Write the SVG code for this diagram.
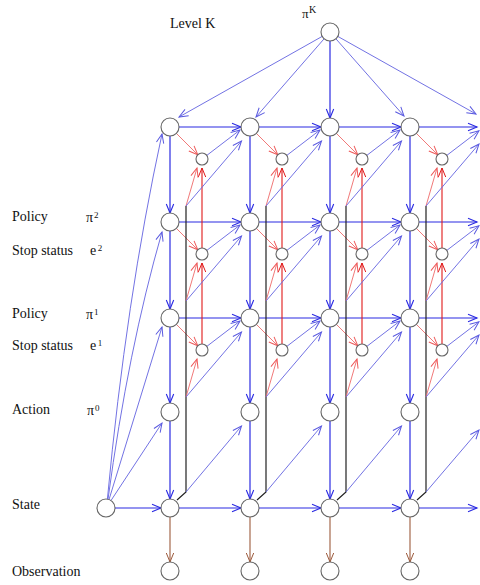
<svg xmlns="http://www.w3.org/2000/svg" width="480" height="585" viewBox="0 0 480 585">
<style>
text{font-family:"Liberation Serif","Times New Roman",serif;font-size:14px;fill:#111}
.sup{font-size:9px}
.n{fill:#fff;stroke:#666;stroke-width:1.1}
.db{stroke:#2a2ae2;stroke-width:1.2;fill:none;marker-end:url(#aDB)}
.lb{stroke:#6a6ae2;stroke-width:0.95;fill:none;marker-end:url(#aLB)}
.rv{stroke:#e01818;stroke-width:1.1;fill:none;marker-end:url(#aRV)}
.lr{stroke:#ee6a6a;stroke-width:0.9;fill:none;marker-end:url(#aLR)}
.br{stroke:#9c5a3c;stroke-width:1.1;fill:none;marker-end:url(#aBR)}
.bk{stroke:#222;stroke-width:1.2;fill:none}
</style>
<defs>
<marker id="aDB" markerUnits="userSpaceOnUse" markerWidth="10" markerHeight="8" refX="9" refY="4" orient="auto" overflow="visible"><path d="M0,0.3 L9,4 L0,7.7" fill="none" stroke="#2a2ae2" stroke-width="1.1"/></marker>
<marker id="aLB" markerUnits="userSpaceOnUse" markerWidth="10" markerHeight="8" refX="9" refY="4" orient="auto" overflow="visible"><path d="M0,0.3 L9,4 L0,7.7" fill="none" stroke="#5a5ae0" stroke-width="1"/></marker>
<marker id="aRV" markerUnits="userSpaceOnUse" markerWidth="10" markerHeight="8" refX="9" refY="4" orient="auto" overflow="visible"><path d="M0,0.3 L9,4 L0,7.7" fill="none" stroke="#e01818" stroke-width="1"/></marker>
<marker id="aLR" markerUnits="userSpaceOnUse" markerWidth="10" markerHeight="8" refX="9" refY="4" orient="auto" overflow="visible"><path d="M0,0.3 L9,4 L0,7.7" fill="none" stroke="#ee5a5a" stroke-width="1"/></marker>
<marker id="aBR" markerUnits="userSpaceOnUse" markerWidth="10" markerHeight="8" refX="9" refY="4" orient="auto" overflow="visible"><path d="M0,0.3 L9,4 L0,7.7" fill="none" stroke="#9c5a3c" stroke-width="1"/></marker>
</defs>

<g id="labels">
<text x="170" y="28">Level K</text>
<text x="302" y="18" style="font-size:13px">π<tspan class="sup" dx="0.5" dy="-5" style="font-size:10px">K</tspan></text>
<text x="12" y="221">Policy</text>
<text x="86" y="222">π<tspan class="sup" dx="1" dy="-4">2</tspan></text>
<text x="12" y="255">Stop status</text>
<text x="90" y="255">e<tspan class="sup" dx="1.5" dy="-4">2</tspan></text>
<text x="12" y="318">Policy</text>
<text x="86" y="319">π<tspan class="sup" dx="1" dy="-4">1</tspan></text>
<text x="12" y="350">Stop status</text>
<text x="90" y="350">e<tspan class="sup" dx="1.5" dy="-4">1</tspan></text>
<text x="12" y="414">Action</text>
<text x="87" y="415">π<tspan class="sup" dx="1" dy="-4">0</tspan></text>
<text x="12" y="509">State</text>
<text x="12" y="576">Observation</text>
</g>

<g id="connectors">
<!-- from top pi^K -->
<line class="lb" x1="322.2" y1="36.4" x2="179" y2="117"/>
<line class="lb" x1="324.1" y1="38.8" x2="256" y2="117"/>
<line class="db" x1="330" y1="41" x2="330" y2="118"/>
<line class="lb" x1="335.9" y1="38.8" x2="404" y2="116"/>
<line class="lb" x1="337.8" y1="36.4" x2="476" y2="114"/>
<!-- from left state node -->
<path class="lb" d="M107.4,499.1 Q126,300 162,134"/>
<path class="lb" d="M108,499.3 Q128,350 162,232"/>
<line class="lb" x1="109" y1="499.6" x2="162" y2="327"/>
<line class="lb" x1="111" y1="500.5" x2="162" y2="423"/>
<line class="db" x1="115" y1="508" x2="161" y2="508"/>

<!-- column 1 (x=170) -->
<line class="db" x1="170" y1="136" x2="170" y2="213"/>
<line class="db" x1="170" y1="231" x2="170" y2="309"/>
<line class="db" x1="170" y1="327" x2="170" y2="403"/>
<line class="db" x1="170" y1="421" x2="170" y2="499"/>
<line class="br" x1="170" y1="517" x2="170" y2="562"/>
<line class="db" x1="179" y1="127" x2="241" y2="127"/>
<line class="db" x1="179" y1="222" x2="241" y2="222"/>
<line class="db" x1="179" y1="318" x2="241" y2="318"/>
<line class="db" x1="179" y1="508" x2="241" y2="508"/>
<line class="lr" x1="176.4" y1="133.4" x2="197.8" y2="154.8"/>
<line class="lr" x1="176.4" y1="228.4" x2="197.8" y2="249.8"/>
<line class="lr" x1="176.4" y1="324.4" x2="197.8" y2="345.8"/>
<path class="bk" d="M186,206 V492 L177,500"/>
<line class="rv" x1="202" y1="248" x2="202" y2="168"/>
<line class="rv" x1="202" y1="344" x2="202" y2="263"/>
<line class="lr" x1="186" y1="206" x2="197" y2="168"/>
<line class="lr" x1="186" y1="301" x2="197" y2="263"/>
<line class="lr" x1="186" y1="397" x2="197" y2="359"/>
<line class="lb" x1="186" y1="206" x2="241.5" y2="141"/>
<line class="lb" x1="186" y1="301" x2="241.5" y2="236"/>
<line class="lb" x1="186" y1="397" x2="241.5" y2="332"/>
<line class="lb" x1="186" y1="492" x2="241.5" y2="426"/>
<line class="lb" x1="206.8" y1="155.4" x2="240" y2="130"/>
<line class="lb" x1="206.8" y1="250.4" x2="240" y2="225"/>
<line class="lb" x1="206.8" y1="346.4" x2="240" y2="321"/>

<!-- column 2 (x=250) -->
<line class="db" x1="250" y1="136" x2="250" y2="213"/>
<line class="db" x1="250" y1="231" x2="250" y2="309"/>
<line class="db" x1="250" y1="327" x2="250" y2="403"/>
<line class="db" x1="250" y1="421" x2="250" y2="499"/>
<line class="br" x1="250" y1="517" x2="250" y2="562"/>
<line class="db" x1="259" y1="127" x2="321" y2="127"/>
<line class="db" x1="259" y1="222" x2="321" y2="222"/>
<line class="db" x1="259" y1="318" x2="321" y2="318"/>
<line class="db" x1="259" y1="508" x2="321" y2="508"/>
<line class="lr" x1="256.4" y1="133.4" x2="277.8" y2="154.8"/>
<line class="lr" x1="256.4" y1="228.4" x2="277.8" y2="249.8"/>
<line class="lr" x1="256.4" y1="324.4" x2="277.8" y2="345.8"/>
<path class="bk" d="M266,206 V492 L257,500"/>
<line class="rv" x1="282" y1="248" x2="282" y2="168"/>
<line class="rv" x1="282" y1="344" x2="282" y2="263"/>
<line class="lr" x1="266" y1="206" x2="277" y2="168"/>
<line class="lr" x1="266" y1="301" x2="277" y2="263"/>
<line class="lr" x1="266" y1="397" x2="277" y2="359"/>
<line class="lb" x1="266" y1="206" x2="321.5" y2="141"/>
<line class="lb" x1="266" y1="301" x2="321.5" y2="236"/>
<line class="lb" x1="266" y1="397" x2="321.5" y2="332"/>
<line class="lb" x1="266" y1="492" x2="321.5" y2="426"/>
<line class="lb" x1="286.8" y1="155.4" x2="320" y2="130"/>
<line class="lb" x1="286.8" y1="250.4" x2="320" y2="225"/>
<line class="lb" x1="286.8" y1="346.4" x2="320" y2="321"/>

<!-- column 3 (x=330) -->
<line class="db" x1="330" y1="136" x2="330" y2="213"/>
<line class="db" x1="330" y1="231" x2="330" y2="309"/>
<line class="db" x1="330" y1="327" x2="330" y2="403"/>
<line class="db" x1="330" y1="421" x2="330" y2="499"/>
<line class="br" x1="330" y1="517" x2="330" y2="562"/>
<line class="db" x1="339" y1="127" x2="401" y2="127"/>
<line class="db" x1="339" y1="222" x2="401" y2="222"/>
<line class="db" x1="339" y1="318" x2="401" y2="318"/>
<line class="db" x1="339" y1="508" x2="401" y2="508"/>
<line class="lr" x1="336.4" y1="133.4" x2="357.8" y2="154.8"/>
<line class="lr" x1="336.4" y1="228.4" x2="357.8" y2="249.8"/>
<line class="lr" x1="336.4" y1="324.4" x2="357.8" y2="345.8"/>
<path class="bk" d="M346,206 V492 L337,500"/>
<line class="rv" x1="362" y1="248" x2="362" y2="168"/>
<line class="rv" x1="362" y1="344" x2="362" y2="263"/>
<line class="lr" x1="346" y1="206" x2="357" y2="168"/>
<line class="lr" x1="346" y1="301" x2="357" y2="263"/>
<line class="lr" x1="346" y1="397" x2="357" y2="359"/>
<line class="lb" x1="346" y1="206" x2="401.5" y2="141"/>
<line class="lb" x1="346" y1="301" x2="401.5" y2="236"/>
<line class="lb" x1="346" y1="397" x2="401.5" y2="332"/>
<line class="lb" x1="346" y1="492" x2="401.5" y2="426"/>
<line class="lb" x1="366.8" y1="155.4" x2="400" y2="130"/>
<line class="lb" x1="366.8" y1="250.4" x2="400" y2="225"/>
<line class="lb" x1="366.8" y1="346.4" x2="400" y2="321"/>

<!-- column 4 (x=410) -->
<line class="db" x1="410" y1="136" x2="410" y2="213"/>
<line class="db" x1="410" y1="231" x2="410" y2="309"/>
<line class="db" x1="410" y1="327" x2="410" y2="403"/>
<line class="db" x1="410" y1="421" x2="410" y2="499"/>
<line class="br" x1="410" y1="517" x2="410" y2="562"/>
<line class="db" x1="419" y1="127" x2="477" y2="127"/>
<line class="db" x1="419" y1="222" x2="477" y2="222"/>
<line class="db" x1="419" y1="318" x2="477" y2="318"/>
<line class="db" x1="419" y1="508" x2="477" y2="508"/>
<line class="lr" x1="416.4" y1="133.4" x2="437.8" y2="154.8"/>
<line class="lr" x1="416.4" y1="228.4" x2="437.8" y2="249.8"/>
<line class="lr" x1="416.4" y1="324.4" x2="437.8" y2="345.8"/>
<path class="bk" d="M426,206 V492 L417,500"/>
<line class="rv" x1="442" y1="248" x2="442" y2="168"/>
<line class="rv" x1="442" y1="344" x2="442" y2="263"/>
<line class="lr" x1="426" y1="206" x2="437" y2="168"/>
<line class="lr" x1="426" y1="301" x2="437" y2="263"/>
<line class="lr" x1="426" y1="397" x2="437" y2="359"/>
<line class="lb" x1="426" y1="206" x2="479" y2="144"/>
<line class="lb" x1="426" y1="301" x2="479" y2="239"/>
<line class="lb" x1="426" y1="397" x2="479" y2="335"/>
<line class="lb" x1="426" y1="492" x2="479" y2="430"/>
<line class="lb" x1="446.8" y1="155.4" x2="479" y2="130.8"/>
<line class="lb" x1="446.8" y1="250.4" x2="479" y2="225.8"/>
<line class="lb" x1="446.8" y1="346.4" x2="479" y2="321.8"/>
</g>

<g id="node-piK"><circle class="n" cx="330" cy="32" r="9"/></g>
<g id="node-state0"><circle class="n" cx="106" cy="508" r="9"/></g>

<g id="node-c1-pK"><circle class="n" cx="170" cy="127" r="9"/></g>
<g id="node-c1-eK"><circle class="n" cx="202" cy="159" r="6"/></g>
<g id="node-c1-p2"><circle class="n" cx="170" cy="222" r="9"/></g>
<g id="node-c1-e2"><circle class="n" cx="202" cy="254" r="6"/></g>
<g id="node-c1-p1"><circle class="n" cx="170" cy="318" r="9"/></g>
<g id="node-c1-e1"><circle class="n" cx="202" cy="350" r="6"/></g>
<g id="node-c1-a"><circle class="n" cx="170" cy="412" r="9"/></g>
<g id="node-c1-s"><circle class="n" cx="170" cy="508" r="9"/></g>
<g id="node-c1-o"><circle class="n" cx="170" cy="571" r="9"/></g>

<g id="node-c2-pK"><circle class="n" cx="250" cy="127" r="9"/></g>
<g id="node-c2-eK"><circle class="n" cx="282" cy="159" r="6"/></g>
<g id="node-c2-p2"><circle class="n" cx="250" cy="222" r="9"/></g>
<g id="node-c2-e2"><circle class="n" cx="282" cy="254" r="6"/></g>
<g id="node-c2-p1"><circle class="n" cx="250" cy="318" r="9"/></g>
<g id="node-c2-e1"><circle class="n" cx="282" cy="350" r="6"/></g>
<g id="node-c2-a"><circle class="n" cx="250" cy="412" r="9"/></g>
<g id="node-c2-s"><circle class="n" cx="250" cy="508" r="9"/></g>
<g id="node-c2-o"><circle class="n" cx="250" cy="571" r="9"/></g>

<g id="node-c3-pK"><circle class="n" cx="330" cy="127" r="9"/></g>
<g id="node-c3-eK"><circle class="n" cx="362" cy="159" r="6"/></g>
<g id="node-c3-p2"><circle class="n" cx="330" cy="222" r="9"/></g>
<g id="node-c3-e2"><circle class="n" cx="362" cy="254" r="6"/></g>
<g id="node-c3-p1"><circle class="n" cx="330" cy="318" r="9"/></g>
<g id="node-c3-e1"><circle class="n" cx="362" cy="350" r="6"/></g>
<g id="node-c3-a"><circle class="n" cx="330" cy="412" r="9"/></g>
<g id="node-c3-s"><circle class="n" cx="330" cy="508" r="9"/></g>
<g id="node-c3-o"><circle class="n" cx="330" cy="571" r="9"/></g>

<g id="node-c4-pK"><circle class="n" cx="410" cy="127" r="9"/></g>
<g id="node-c4-eK"><circle class="n" cx="442" cy="159" r="6"/></g>
<g id="node-c4-p2"><circle class="n" cx="410" cy="222" r="9"/></g>
<g id="node-c4-e2"><circle class="n" cx="442" cy="254" r="6"/></g>
<g id="node-c4-p1"><circle class="n" cx="410" cy="318" r="9"/></g>
<g id="node-c4-e1"><circle class="n" cx="442" cy="350" r="6"/></g>
<g id="node-c4-a"><circle class="n" cx="410" cy="412" r="9"/></g>
<g id="node-c4-s"><circle class="n" cx="410" cy="508" r="9"/></g>
<g id="node-c4-o"><circle class="n" cx="410" cy="571" r="9"/></g>
</svg>
